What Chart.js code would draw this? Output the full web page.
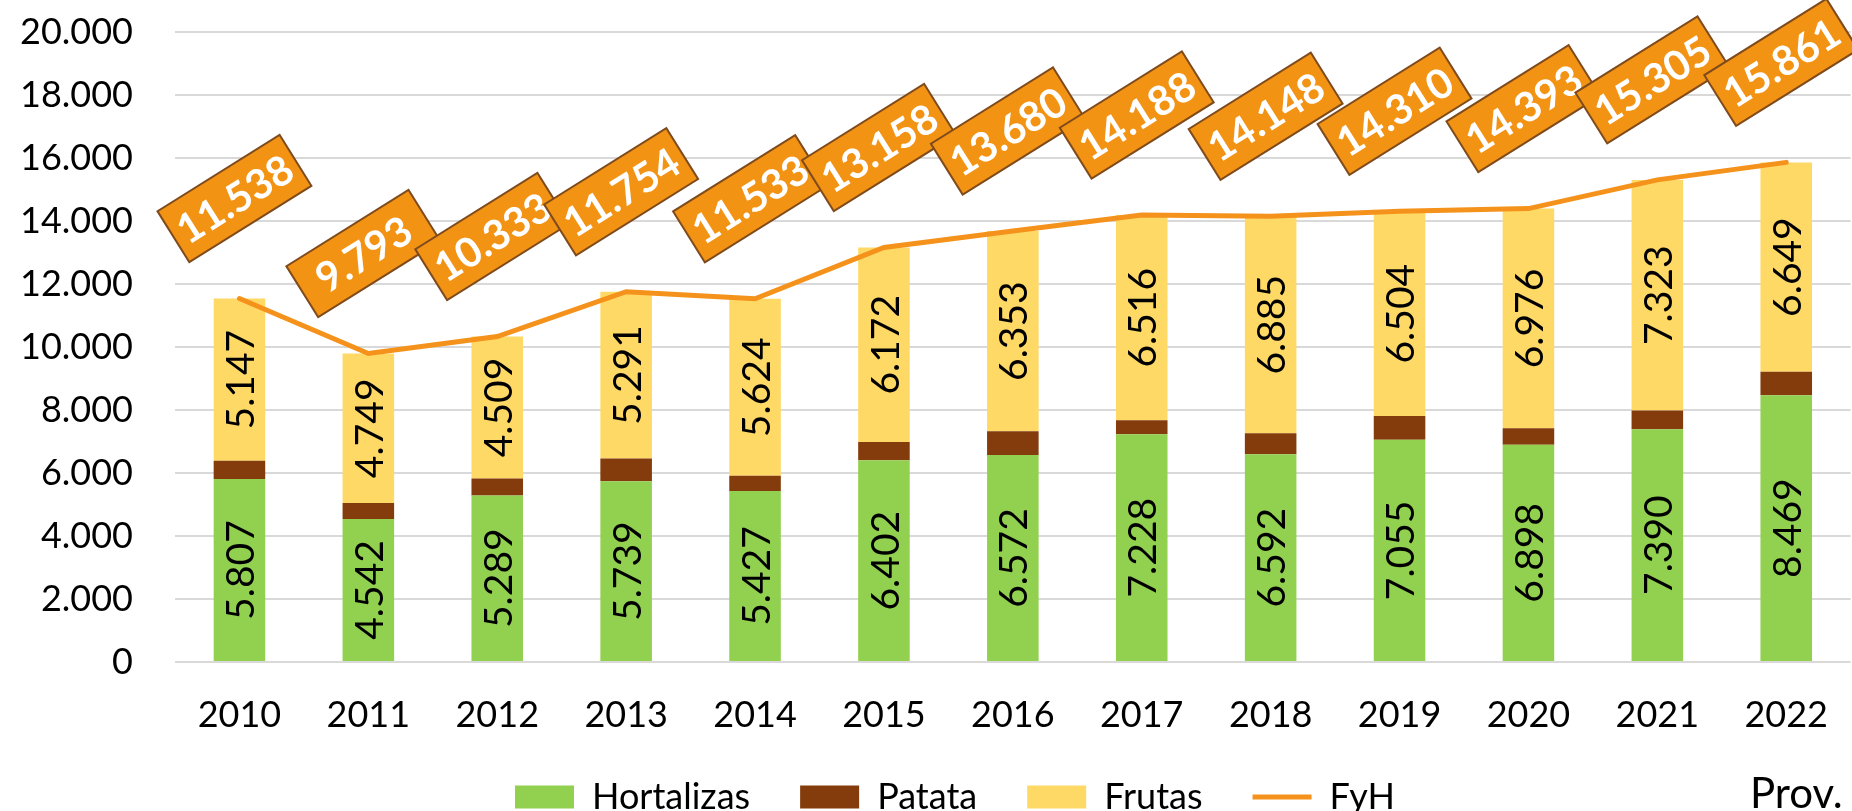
<!DOCTYPE html>
<html lang="es">
<head>
    <meta charset="UTF-8">
    <title>Hortalizas, patata y frutas</title>
    <script src="https://cdn.jsdelivr.net/npm/chart.js"></script>
    <style>
        body {
            margin: 0;
            padding: 0;
            background-color: white;
        }

        .chart-box {
            width: 1852px;
            height: 811px;
        }
    </style>
</head>
<body>
<div class="chart-box">
    <canvas id="fyh-chart" width="1852" height="811"></canvas>
</div>
<script>
    // datos
    var years = ['2010', '2011', '2012', '2013', '2014', '2015', '2016', '2017', '2018', '2019', '2020', '2021', '2022'];
    var hortalizas = [5807, 4542, 5289, 5739, 5427, 6402, 6572, 7228, 6592, 7055, 6898, 7390, 8469];
    var patata = [584, 502, 535, 724, 482, 584, 755, 444, 671, 751, 519, 592, 743];
    var frutas = [5147, 4749, 4509, 5291, 5624, 6172, 6353, 6516, 6885, 6504, 6976, 7323, 6649];
    var fyh = [11538, 9793, 10333, 11754, 11533, 13158, 13680, 14188, 14148, 14310, 14393, 15305, 15861];
    var yTicks = [0, 2000, 4000, 6000, 8000, 10000, 12000, 14000, 16000, 18000, 20000];

    var FONT = 'Lato';

    function fmt(n) {
        return String(n).replace(/\B(?=(\d{3})+(?!\d))/g, '.');
    }

    // etiquetas dentro de las barras y cajas naranjas sobre la linea
    var labelsPlugin = {
        id: 'labelsPlugin',
        afterLayout: function (chart) {
            // la leyenda del original esta algo desplazada a la derecha
            chart.legend.left += 29;
            chart.legend.right += 29;
        },
        afterDatasetsDraw: function (chart) {
            var ctx = chart.ctx;
            [0, 2].forEach(function (di) {
                var meta = chart.getDatasetMeta(di);
                var values = chart.data.datasets[di].data;
                meta.data.forEach(function (bar, j) {
                    var cy = (bar.y + bar.base) / 2;
                    ctx.save();
                    ctx.translate(bar.x, cy);
                    ctx.rotate(-Math.PI / 2);
                    ctx.font = '39px ' + FONT;
                    ctx.fillStyle = '#000';
                    ctx.textAlign = 'center';
                    ctx.textBaseline = 'middle';
                    ctx.fillText(fmt(values[j]), 0, 2);
                    ctx.restore();
                });
            });

            var lineMeta = chart.getDatasetMeta(3);
            lineMeta.data.forEach(function (pt, j) {
                ctx.save();
                ctx.translate(pt.x - 5, pt.y - 100);
                ctx.rotate(-32 * Math.PI / 180);
                ctx.fillStyle = '#F39314';
                ctx.strokeStyle = '#7F4B1C';
                ctx.lineWidth = 2;
                ctx.fillRect(-72, -30, 144, 60);
                ctx.strokeRect(-72, -30, 144, 60);
                ctx.font = 'bold 41px ' + FONT;
                ctx.fillStyle = '#fff';
                ctx.textAlign = 'center';
                ctx.textBaseline = 'middle';
                ctx.fillText(fmt(fyh[j]), 0, 2);
                ctx.restore();
            });
        },
        afterDraw: function (chart) {
            var ctx = chart.ctx;
            ctx.save();
            ctx.font = '42px ' + FONT;
            ctx.fillStyle = '#000';
            ctx.textAlign = 'left';
            ctx.textBaseline = 'middle';
            ctx.fillText('Prov.', 1750, 794);
            ctx.restore();
        }
    };

    var ctx = document.getElementById('fyh-chart').getContext('2d');
    new Chart(ctx, {
        data: {
            labels: years,
            datasets: [
                {type: 'bar', label: 'Hortalizas', data: hortalizas, backgroundColor: '#92D050', stack: 'fyh', order: 1, pointStyle: 'rect'},
                {type: 'bar', label: 'Patata', data: patata, backgroundColor: '#843C0C', stack: 'fyh', order: 1, pointStyle: 'rect'},
                {type: 'bar', label: 'Frutas', data: frutas, backgroundColor: '#FFD966', stack: 'fyh', order: 1, pointStyle: 'rect'},
                {
                    type: 'line', label: 'FyH', data: fyh, borderColor: '#F5921B', backgroundColor: '#F5921B',
                    borderWidth: 5, borderCapStyle: 'round', pointRadius: 0, tension: 0, stack: 'total', order: 0,
                    pointStyle: 'line'
                }
            ]
        },
        options: {
            responsive: false,
            animation: false,
            datasets: {
                bar: {barPercentage: 0.4, categoryPercentage: 1}
            },
            layout: {padding: {top: 32, right: 0, left: 0, bottom: -14}},
            scales: {
                x: {
                    stacked: true,
                    grid: {display: false},
                    border: {display: false},
                    ticks: {font: {family: FONT, size: 36}, color: '#000', padding: 24, maxRotation: 0},
                    afterFit: function (s) { s.height = 67; }
                },
                y: {
                    stacked: true,
                    min: 0,
                    max: 20000,
                    afterBuildTicks: function (s) {
                        s.ticks = yTicks.map(function (v) { return {value: v}; });
                    },
                    grid: {color: '#D9D9D9', lineWidth: 2, drawTicks: true, tickLength: 42, tickColor: 'rgba(0,0,0,0)'},
                    border: {display: false},
                    ticks: {
                        font: {family: FONT, size: 36}, color: '#000', padding: 0,
                        callback: function (v) { return fmt(v); }
                    },
                    afterFit: function (s) { s.width = 175; }
                }
            },
            plugins: {
                tooltip: {enabled: false},
                legend: {
                    position: 'bottom',
                    labels: {
                        font: {family: FONT, size: 36}, color: '#000',
                        usePointStyle: true, pointStyleWidth: 59, boxHeight: 23, padding: 50,
                        sort: function (a, b) { return a.datasetIndex - b.datasetIndex; }
                    }
                }
            }
        },
        plugins: [labelsPlugin]
    });
</script>
</body>
</html>
